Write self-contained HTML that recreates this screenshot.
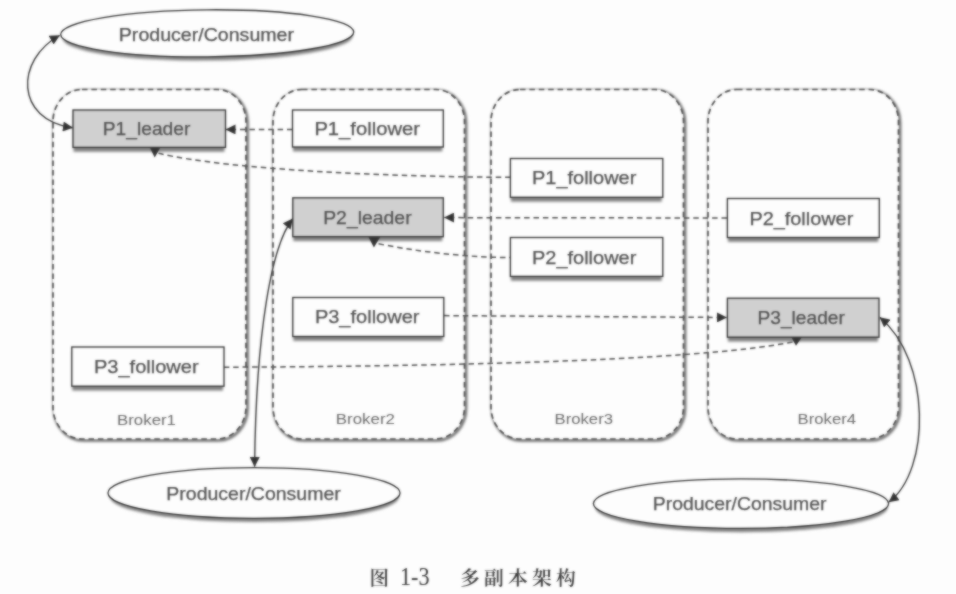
<!DOCTYPE html>
<html><head><meta charset="utf-8"><title>图 1-3 多副本架构</title>
<style>
html,body{margin:0;padding:0;background:#fdfdfd;}
svg{display:block}
text{font-family:"Liberation Sans","Noto Sans CJK SC",sans-serif;fill:#505050;stroke:#505050;stroke-width:.25}
.bk{font-family:"Liberation Sans","DejaVu Sans",sans-serif;font-size:14.6px;fill:#6a6a6a;stroke:none}
.cap{font-family:"Liberation Serif","Noto Serif CJK SC",serif;fill:#3a3a3a;stroke:none}
</style></head><body>
<svg width="956" height="594" viewBox="0 0 956 594">
<defs>
<filter id="bl" x="-2%" y="-2%" width="104%" height="104%" color-interpolation-filters="sRGB"><feGaussianBlur stdDeviation="0.8" result="b"/><feComposite in="b" in2="SourceGraphic" operator="arithmetic" k1="0" k2="0.7" k3="0.3" k4="0"/></filter>
<filter id="sh" x="-10%" y="-30%" width="120%" height="160%"><feGaussianBlur stdDeviation="0.9"/></filter>
<filter id="sh2" x="-10%" y="-10%" width="120%" height="120%"><feGaussianBlur stdDeviation="0.8"/></filter>
<marker id="ar" viewBox="0 0 10 10" refX="9.5" refY="5" markerWidth="10.5" markerHeight="10" orient="auto-start-reverse" markerUnits="userSpaceOnUse"><path d="M0,0 L10,5 L0,10 z" fill="#333"/></marker>
</defs>
<rect width="956" height="594" fill="#fdfdfd"/>
<g filter="url(#bl)">
<rect x="54.3" y="90.8" width="193" height="349.5" rx="29" ry="32" fill="none" stroke="#6c6c6c" stroke-width="3" filter="url(#sh2)"/>
<rect x="53" y="89.5" width="193" height="349.5" rx="29" ry="32" fill="#fdfdfd" stroke="#505050" stroke-width="1.7" stroke-dasharray="5.5 3.9"/>
<text class="bk" x="117.0" y="424.8" textLength="59.0" lengthAdjust="spacingAndGlyphs">Broker1</text>
<rect x="274.3" y="90.8" width="191.5" height="349.5" rx="29" ry="32" fill="none" stroke="#6c6c6c" stroke-width="3" filter="url(#sh2)"/>
<rect x="273" y="89.5" width="191.5" height="349.5" rx="29" ry="32" fill="#fdfdfd" stroke="#505050" stroke-width="1.7" stroke-dasharray="5.5 3.9"/>
<text class="bk" x="335.8" y="424.2" textLength="59.2" lengthAdjust="spacingAndGlyphs">Broker2</text>
<rect x="492.3" y="90.8" width="192.5" height="349.5" rx="29" ry="32" fill="none" stroke="#6c6c6c" stroke-width="3" filter="url(#sh2)"/>
<rect x="491" y="89.5" width="192.5" height="349.5" rx="29" ry="32" fill="#fdfdfd" stroke="#505050" stroke-width="1.7" stroke-dasharray="5.5 3.9"/>
<text class="bk" x="554.5" y="423.6" textLength="58.5" lengthAdjust="spacingAndGlyphs">Broker3</text>
<rect x="709.3" y="90.8" width="190.5" height="349.5" rx="29" ry="32" fill="none" stroke="#6c6c6c" stroke-width="3" filter="url(#sh2)"/>
<rect x="708" y="89.5" width="190.5" height="349.5" rx="29" ry="32" fill="#fdfdfd" stroke="#505050" stroke-width="1.7" stroke-dasharray="5.5 3.9"/>
<text class="bk" x="797.6" y="423.6" textLength="58.5" lengthAdjust="spacingAndGlyphs">Broker4</text>
<path d="M292.5,129.4 L226,129.4" fill="none" stroke="#4e4e4e" stroke-width="1.5" stroke-dasharray="5.5 3.9" marker-end="url(#ar)"/>
<path d="M158.5,153.3 C230,170.3 400,177 510.5,177.3" fill="none" stroke="#4e4e4e" stroke-width="1.5" stroke-dasharray="5.5 3.9"/>
<path d="M727,218 L444.5,217.6" fill="none" stroke="#4e4e4e" stroke-width="1.5" stroke-dasharray="5.5 3.9" marker-end="url(#ar)"/>
<path d="M378.5,243.8 C430,254 480,257.6 510.4,257.6" fill="none" stroke="#4e4e4e" stroke-width="1.5" stroke-dasharray="5.5 3.9"/>
<path d="M444,315.6 L726.5,317.5" fill="none" stroke="#4e4e4e" stroke-width="1.5" stroke-dasharray="5.5 3.9" marker-end="url(#ar)"/>
<path d="M792.5,342 C690,362.5 400,366.5 224,367.2" fill="none" stroke="#4e4e4e" stroke-width="1.5" stroke-dasharray="5.5 3.9"/>
<rect x="73.5" y="114.4" width="151.0" height="37.400000000000006" fill="#858585" filter="url(#sh)"/>
<rect x="73" y="110" width="152.5" height="37.4" fill="#d0d0d0" stroke="#303030" stroke-width="1.3"/>
<text x="102.8" y="135.1" font-size="18.5" textLength="87.5" lengthAdjust="spacingAndGlyphs">P1_leader</text>
<rect x="293.0" y="114.4" width="149.3" height="37" fill="#858585" filter="url(#sh)"/>
<rect x="292.5" y="110" width="150.8" height="37.0" fill="#fdfdfd" stroke="#303030" stroke-width="1.3"/>
<text x="314.4" y="135.1" font-size="18.5" textLength="105.6" lengthAdjust="spacingAndGlyphs">P1_follower</text>
<rect x="510.9" y="162.9" width="150.89999999999998" height="38.80000000000001" fill="#858585" filter="url(#sh)"/>
<rect x="510.4" y="158.5" width="152.4" height="38.8" fill="#fdfdfd" stroke="#303030" stroke-width="1.3"/>
<text x="532.0" y="184.3" font-size="18.5" textLength="104.3" lengthAdjust="spacingAndGlyphs">P1_follower</text>
<rect x="293.3" y="202.20000000000002" width="149.0" height="38.89999999999998" fill="#858585" filter="url(#sh)"/>
<rect x="292.8" y="197.8" width="150.5" height="38.9" fill="#d0d0d0" stroke="#303030" stroke-width="1.3"/>
<text x="323.2" y="223.6" font-size="18.5" textLength="88.4" lengthAdjust="spacingAndGlyphs">P2_leader</text>
<rect x="727.9" y="202.9" width="150.39999999999998" height="39.0" fill="#858585" filter="url(#sh)"/>
<rect x="727.4" y="198.5" width="151.9" height="39.0" fill="#fdfdfd" stroke="#303030" stroke-width="1.3"/>
<text x="749.4" y="224.8" font-size="18.5" textLength="103.9" lengthAdjust="spacingAndGlyphs">P2_follower</text>
<rect x="510.9" y="241.9" width="150.89999999999998" height="38.89999999999998" fill="#858585" filter="url(#sh)"/>
<rect x="510.4" y="237.5" width="152.4" height="38.9" fill="#fdfdfd" stroke="#303030" stroke-width="1.3"/>
<text x="532.0" y="264.1" font-size="18.5" textLength="104.3" lengthAdjust="spacingAndGlyphs">P2_follower</text>
<rect x="293.3" y="301.9" width="149.5" height="39.0" fill="#858585" filter="url(#sh)"/>
<rect x="292.8" y="297.5" width="151.0" height="39.0" fill="#fdfdfd" stroke="#303030" stroke-width="1.3"/>
<text x="314.9" y="322.8" font-size="18.5" textLength="104.6" lengthAdjust="spacingAndGlyphs">P3_follower</text>
<rect x="727.9" y="302.59999999999997" width="150.10000000000002" height="39.0" fill="#858585" filter="url(#sh)"/>
<rect x="727.4" y="298.2" width="151.6" height="39.0" fill="#d0d0d0" stroke="#303030" stroke-width="1.3"/>
<text x="757.5" y="323.6" font-size="18.5" textLength="87.4" lengthAdjust="spacingAndGlyphs">P3_leader</text>
<rect x="72.3" y="351.4" width="150.7" height="39.19999999999999" fill="#858585" filter="url(#sh)"/>
<rect x="71.8" y="347" width="152.2" height="39.2" fill="#fdfdfd" stroke="#303030" stroke-width="1.3"/>
<text x="93.9" y="373.3" font-size="18.5" textLength="104.8" lengthAdjust="spacingAndGlyphs">P3_follower</text>
<polygon points="149.7,147.3 160.5,147.3 154.7,157.4" fill="#363636"/>
<polygon points="368.5,236.9 380.2,236.9 373.9,247.4" fill="#363636"/>
<polygon points="791.4,337.3 801.8,337.3 796,345.8" fill="#363636"/>
<ellipse cx="207.7" cy="37.099999999999994" rx="145.0" ry="23.5" fill="#858585" filter="url(#sh)" transform="rotate(-0.5 207.2 33.3)"/>
<ellipse cx="207.2" cy="33.3" rx="146.5" ry="23.5" fill="#fdfdfd" stroke="#303030" stroke-width="1.3" transform="rotate(-0.5 207.2 33.3)"/>
<text x="118.8" y="41.0" font-size="18.5" textLength="175.2" lengthAdjust="spacingAndGlyphs">Producer/Consumer</text>
<ellipse cx="254.5" cy="496.8" rx="144.5" ry="25.3" fill="#858585" filter="url(#sh)"/>
<ellipse cx="254" cy="493" rx="146" ry="25.3" fill="#fdfdfd" stroke="#303030" stroke-width="1.3"/>
<text x="166.3" y="500.3" font-size="18.5" textLength="174.5" lengthAdjust="spacingAndGlyphs">Producer/Consumer</text>
<ellipse cx="741.5" cy="507.40000000000003" rx="146.1" ry="24.8" fill="#858585" filter="url(#sh)"/>
<ellipse cx="741" cy="503.6" rx="147.6" ry="24.8" fill="#fdfdfd" stroke="#303030" stroke-width="1.3"/>
<text x="652.8" y="510.3" font-size="18.5" textLength="173.7" lengthAdjust="spacingAndGlyphs">Producer/Consumer</text>
<path d="M59.5,35.5 C15,60 15,120 72.5,127.8" fill="none" stroke="#3a3a3a" stroke-width="1.4" marker-start="url(#ar)" marker-end="url(#ar)"/>
<path d="M292.5,219 C272,245 256,330 254.6,466.5" fill="none" stroke="#3a3a3a" stroke-width="1.4" marker-start="url(#ar)" marker-end="url(#ar)"/>
<path d="M880,317.5 C931,360 931,470 889,502" fill="none" stroke="#3a3a3a" stroke-width="1.4" marker-start="url(#ar)" marker-end="url(#ar)"/>
<text class="cap" x="369.5" y="585" font-size="19.5" font-weight="600">图</text>
<text class="cap" x="400" y="585.3" font-size="25" textLength="29.5" lengthAdjust="spacingAndGlyphs">1-3</text>
<text class="cap" x="460" y="585" font-size="19.8" font-weight="600" letter-spacing="4.2">多副本架构</text>
</g>
</svg></body></html>
